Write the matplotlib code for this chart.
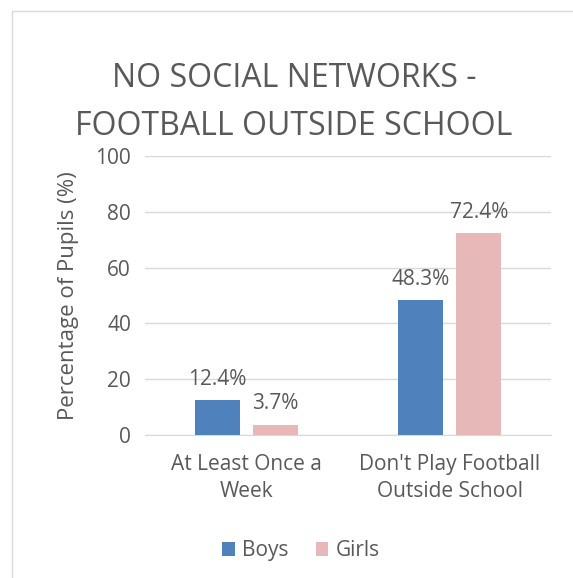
import matplotlib.pyplot as plt
import numpy as np
from matplotlib.patches import Rectangle

categories = ["At Least Once a\nWeek", "Don't Play Football\nOutside School"]
boys = [12.4, 48.3]
girls = [3.7, 72.4]
series_names = ["Boys", "Girls"]
yticks = [0, 20, 40, 60, 80, 100]

plt.rcParams['font.family'] = ['Open Sans', 'DejaVu Sans']
text_color = '#595959'

fig = plt.figure(figsize=(5.73, 5.78), dpi=100)
ax = fig.add_axes([0.253, 0.2474, 0.709, 0.4827])

x = np.arange(len(categories))
w = 0.22
off = 0.143
b1 = ax.bar(x - off, boys, w, color='#4F81BD', label=series_names[0], zorder=3)
b2 = ax.bar(x + off, girls, w, color='#E6B9B8', label=series_names[1], zorder=3)

for bars, vals in [(b1, boys), (b2, girls)]:
    for rect, v in zip(bars, vals):
        ax.text(rect.get_x() + rect.get_width() / 2, v + 7.5, f'{v:.1f}%',
                ha='center', va='center', fontsize=15, color=text_color)

ax.set_xlim(-0.5, 1.5)
ax.set_ylim(0, 100)
ax.set_yticks(yticks)
ax.set_yticklabels([str(t) for t in yticks], fontsize=15, color=text_color)
ax.set_xticks(x)
ax.set_xticklabels(categories, fontsize=15, color=text_color, linespacing=1.35)
ax.tick_params(length=0)
ax.tick_params(axis='x', pad=14)
ax.tick_params(axis='y', pad=10)
ax.grid(axis='y', color='#D9D9D9', linewidth=1, zorder=0)
for s in ['top', 'right', 'left']:
    ax.spines[s].set_visible(False)
ax.spines['bottom'].set_color('#D9D9D9')
ax.set_ylabel('Percentage of Pupils (%)', fontsize=16, color=text_color, labelpad=12)

fig.text(0.513, 0.822, 'NO SOCIAL NETWORKS -\nFOOTBALL OUTSIDE SCHOOL', ha='center', va='center',
         fontsize=23, color=text_color, linespacing=1.6)

leg = fig.legend(handles=[b1, b2], loc='center', bbox_to_anchor=(0.525, 0.047), ncol=2,
                 frameon=False, fontsize=15, handlelength=0.6, handleheight=0.6,
                 columnspacing=1.3, handletextpad=0.35)
for t in leg.get_texts():
    t.set_color(text_color)

fig.patches.append(Rectangle((12 / 573, -0.1), 1.2, 1 - 11 / 578 + 0.1, transform=fig.transFigure,
                             fill=False, edgecolor='#D9D9D9', linewidth=1))

fig.savefig('out.png', dpi=100)
